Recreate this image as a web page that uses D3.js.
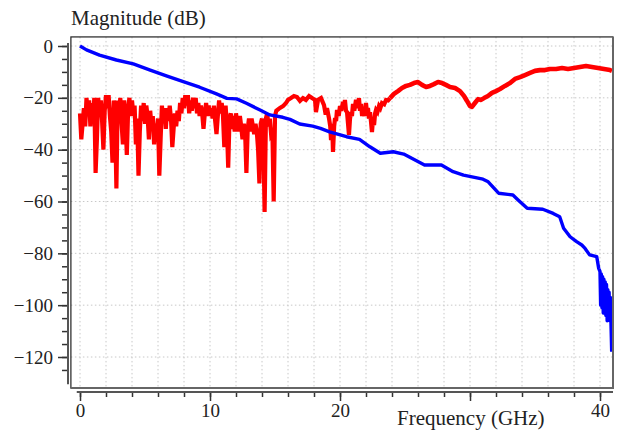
<!DOCTYPE html>
<html>
<head>
<meta charset="utf-8">
<script src="https://cdn.jsdelivr.net/npm/d3@7"></script>
<style>
  body { margin: 0; background: #fff; }
  text { font-family: 'Liberation Serif', 'Times New Roman', serif; fill: #222; }
</style>
</head>
<body>
<div class="container"></div>
<script>
// red trace (noisy one), GHz / dB
const redFreq = [0.0, 0.1, 0.2, 0.3, 0.4, 0.5, 0.6, 0.7, 0.8, 0.9, 1.0, 1.1, 1.2, 1.3, 1.4, 1.5, 1.6, 1.7, 1.8, 1.9,
  2.0, 2.1, 2.2, 2.3, 2.4, 2.5, 2.6, 2.7, 2.8, 2.9, 3.0, 3.1, 3.2, 3.3, 3.4, 3.5, 3.6, 3.7, 3.8, 3.9,
  4.0, 4.1, 4.2, 4.3, 4.4, 4.5, 4.6, 4.7, 4.8, 4.9, 5.0, 5.1, 5.2, 5.3, 5.4, 5.5, 5.6, 5.7, 5.8, 5.9,
  6.0, 6.1, 6.2, 6.3, 6.4, 6.5, 6.6, 6.7, 6.8, 6.9, 7.0, 7.1, 7.2, 7.3, 7.4, 7.5, 7.6, 7.7, 7.8, 7.9,
  8.0, 8.1, 8.2, 8.3, 8.4, 8.5, 8.6, 8.7, 8.8, 8.9, 9.0, 9.1, 9.2, 9.3, 9.4, 9.5, 9.6, 9.7, 9.8, 9.9,
  10.0, 10.1, 10.2, 10.3, 10.4, 10.5, 10.6, 10.7, 10.8, 10.9, 11.0, 11.1, 11.2, 11.3, 11.4, 11.5, 11.6, 11.7, 11.8, 11.9,
  12.0, 12.1, 12.2, 12.3, 12.4, 12.5, 12.6, 12.7, 12.8, 12.9, 13.0, 13.1, 13.2, 13.3, 13.4, 13.5, 13.6, 13.7, 13.8, 13.9,
  14.0, 14.1, 14.2, 14.3, 14.4, 14.5, 14.6, 14.7, 14.8, 14.9, 15.0, 15.1, 15.38, 15.62, 15.85, 16.0, 16.23, 16.46, 16.69, 16.92,
  17.15, 17.38, 17.62, 17.85, 18.08, 18.15, 18.31, 18.54, 18.77, 18.9, 19.0, 19.15, 19.25, 19.31, 19.4, 19.46, 19.55, 19.62, 19.7, 19.77,
  19.9, 20.0, 20.1, 20.23, 20.3, 20.38, 20.46, 20.54, 20.6, 20.69, 20.77, 20.85, 20.92, 21.0, 21.1, 21.23, 21.35, 21.46, 21.54, 21.62,
  21.7, 21.77, 21.88, 22.0, 22.08, 22.15, 22.23, 22.31, 22.38, 22.46, 22.54, 22.62, 22.7, 22.77, 22.88, 23.0, 23.1, 23.23, 23.4, 23.54,
  23.7, 23.85, 24.15, 24.46, 24.77, 25.08, 25.38, 25.69, 26.0, 26.31, 26.62, 26.92, 27.23, 27.54, 27.85, 28.15, 28.46, 28.85, 29.23, 29.54,
  29.77, 30.0, 30.15, 30.38, 30.62, 30.85, 31.08, 31.38, 31.69, 32.0, 32.31, 32.69, 33.08, 33.46, 33.85, 34.23, 34.62, 35.0, 35.38, 35.77,
  36.15, 36.62, 37.08, 37.54, 38.0, 38.46, 38.92, 39.38, 39.85, 40.31, 40.77, 40.92];
const redDb = [-26, -36, -30, -24, -31, -20, -27, -21, -31, -22, -29, -20, -49, -36, -20, -27, -21, -29, -40, -25,
  -19, -24, -19, -27, -33, -45, -21, -28, -55, -21, -28, -20, -30, -38, -21, -27, -42, -25, -20, -27,
  -21, -26, -23, -38, -28, -50, -33, -23, -29, -22, -30, -23, -27, -36, -25, -31, -27, -38, -30, -33,
  -28, -50, -36, -23, -29, -24, -32, -24, -29, -23, -28, -39, -32, -26, -31, -25, -29, -22, -26, -20,
  -24, -19, -23, -19, -26, -21, -25, -20, -24, -20, -26, -22, -27, -23, -26, -32, -26, -22, -27, -23,
  -27, -24, -28, -23, -29, -34, -27, -21, -26, -22, -27, -39, -23, -31, -47, -28, -26, -32, -27, -33,
  -26, -30, -33, -27, -31, -36, -30, -33, -49, -32, -28, -33, -28, -31, -34, -30, -33, -40, -53, -30,
  -28, -34, -64, -28, -26, -31, -28, -34, -33, -60, -27, -25, -23.9, -23.2, -22.0, -20.8, -20.1, -19.3, -19.7, -21.2,
  -20.1, -20.8, -19.3, -20.1, -20.8, -25.5, -20.8, -20.1, -22.8, -26.5, -24.0, -27.8, -31, -36.3, -30, -40.9, -31, -27.8, -29, -24.7,
  -27, -23.2, -25, -21.6, -24, -20.8, -25, -25.5, -29, -34.3, -28, -25.5, -27, -22.4, -25, -20.8, -24, -20.1, -25, -22.4,
  -27, -24.7, -27, -22.0, -26, -23.9, -28, -25.5, -29, -33.2, -28, -30.5, -26, -24.7, -25.5, -23.2, -24, -22.0, -22.5, -20.8,
  -21, -20.1, -18.5, -17.4, -16.2, -15.4, -15.0, -14.3, -13.9, -15.0, -15.8, -15.4, -14.7, -13.9, -14.3, -15.0, -15.8, -16.2, -17.4, -19.3,
  -21.2, -23.2, -23.5, -22.0, -20.5, -20.8, -20.1, -19.3, -18.1, -17.4, -16.6, -15.4, -14.3, -12.7, -12.0, -11.2, -10.4, -9.6, -9.3, -9.3,
  -8.9, -8.9, -8.5, -8.9, -8.5, -8.1, -7.7, -8.1, -8.5, -8.9, -9.3, -9.6];

// blue trace (smooth roll-off)
const blueFreq = [0, 0.5, 1.5, 2.8, 4.1, 5.4, 6.7, 8.0, 9.2, 10.5, 11.3, 12.05, 12.8, 13.85, 14.6, 15.6, 16.15, 16.9, 17.9, 18.5,
  19.2, 20.5, 21.5, 22.3, 23.1, 24.1, 24.9, 26.5, 27.8, 28.7, 29.5, 31.0, 31.4, 32.2, 33.3, 33.7, 34.4, 35.6, 36.4, 36.9,
  37.2, 37.7, 38.2, 38.6, 38.85, 39.2, 39.75, 39.9, 40.0, 40.05, 40.1, 40.15, 40.2, 40.25, 40.3, 40.35, 40.4, 40.45, 40.5, 40.55,
  40.6, 40.65, 40.7, 40.75, 40.8, 40.85, 40.9];
const blueDb = [0, -1.5, -3.5, -5.4, -6.9, -9.3, -11.6, -13.8, -15.9, -18.5, -20.2, -20.4, -22.1, -24.7, -26.6, -27.5, -28.3, -30.1, -30.9, -31.8,
  -33.1, -35.0, -36.0, -38.9, -41.4, -40.8, -41.7, -45.9, -45.9, -48.5, -49.8, -51.4, -52.4, -56.8, -57.5, -59.4, -62.6, -63.0, -64.6, -65.9,
  -70.3, -73.6, -75.5, -76.8, -78.1, -80.6, -81.3, -85.8, -87, -100, -88, -101, -89, -103, -90, -100, -91, -104, -92, -106,
  -94, -102, -95, -106, -97, -108, -118];

// ticks
const xMajorTicks = [0, 10, 20, 30, 40];
const xMinorTicks = d3.range(0, 41, 2);
const xHiddenLabels = [30]; // covered by the axis title in the original
const yMajorTicks = [0, -20, -40, -60, -80, -100, -120];
const yMinorTicks = d3.range(0, -126, -5);

const renderChart = () => {
  const width = 620;
  const height = 432;

  const svg = d3.select('.container').append('svg').attr('width', width).attr('height', height);

  //scales
  const xScale = d3.scaleLinear().domain([0, 40]).range([80, 600]);
  const yScale = d3.scaleLinear().domain([0, -120]).range([46, 357]);

  //frame extents
  const left = xScale(-0.7);
  const right = xScale(41);
  const top = yScale(3.5);
  const bottom = yScale(-132);

  //grid
  const grid = svg.append('g').attr('class', 'grid').attr('stroke', '#c8c8c8').attr('stroke-dasharray', '1.5,2.5');
  grid
    .selectAll('.vgrid')
    .data(xMinorTicks)
    .join('line')
    .attr('x1', d => xScale(d))
    .attr('x2', d => xScale(d))
    .attr('y1', top)
    .attr('y2', bottom);
  grid
    .selectAll('.hgrid')
    .data(yMajorTicks)
    .join('line')
    .attr('x1', left)
    .attr('x2', right)
    .attr('y1', d => yScale(d))
    .attr('y2', d => yScale(d));

  //lines
  const clip = svg.append('clipPath').attr('id', 'plot-clip');
  clip.append('rect').attr('x', left).attr('y', top).attr('width', right - left).attr('height', bottom - top);

  const line = d3
    .line()
    .x(d => xScale(d[0]))
    .y(d => yScale(d[1]));

  const red = d3.zip(redFreq, redDb);
  const blue = d3.zip(blueFreq, blueDb);

  const linesGroup = svg.append('g').attr('class', 'lines').attr('clip-path', 'url(#plot-clip)');
  // noisy low band and the smoother high band, drawn with slightly different widths
  linesGroup
    .append('path')
    .attr('d', line(red.filter(d => d[0] <= 23.85)))
    .attr('fill', 'none')
    .attr('stroke', '#ff0000')
    .attr('stroke-width', 4.2);
  linesGroup
    .append('path')
    .attr('d', line(red.filter(d => d[0] >= 23.85)))
    .attr('fill', 'none')
    .attr('stroke', '#ff0000')
    .attr('stroke-width', 4.6)
    .attr('stroke-linejoin', 'round');
  linesGroup
    .append('path')
    .attr('d', line(blue))
    .attr('fill', 'none')
    .attr('stroke', '#0000ff')
    .attr('stroke-width', 3.4)
    .attr('stroke-linejoin', 'round');

  //frame
  svg
    .append('rect')
    .attr('x', left)
    .attr('y', top)
    .attr('width', right - left)
    .attr('height', bottom - top)
    .attr('fill', 'none')
    .attr('stroke', '#222')
    .attr('stroke-width', 1.2);
  svg
    .append('path')
    .attr('d', `M${right},${top}V${bottom}H${left}`)
    .attr('fill', 'none')
    .attr('stroke', '#666')
    .attr('stroke-width', 2);

  //left axis (detached from frame)
  const axisX = 68;
  const leftAxisGroup = svg.append('g').attr('class', 'left-axis').attr('transform', `translate(${axisX},0)`);
  leftAxisGroup
    .append('g')
    .call(d3.axisLeft(yScale).tickValues(yMinorTicks).tickSize(6).tickFormat(''))
    .call(g => g.select('.domain').remove());
  leftAxisGroup
    .append('g')
    .call(d3.axisLeft(yScale).tickValues(yMajorTicks).tickSize(10).tickPadding(5).tickFormat(d3.format('d')))
    .call(g => g.select('.domain').remove());
  leftAxisGroup
    .append('line')
    .attr('y1', yScale(1.2))
    .attr('y2', yScale(-130.5))
    .attr('stroke', '#555')
    .attr('stroke-width', 2);

  //bottom axis (detached from frame)
  const axisY = 392;
  const bottomAxisGroup = svg.append('g').attr('class', 'bottom-axis').attr('transform', `translate(0,${axisY})`);
  bottomAxisGroup
    .append('g')
    .call(d3.axisBottom(xScale).tickValues(xMinorTicks).tickSize(5).tickFormat(''))
    .call(g => g.select('.domain').remove());
  bottomAxisGroup
    .append('g')
    .call(
      d3
        .axisBottom(xScale)
        .tickValues(xMajorTicks)
        .tickSize(9)
        .tickPadding(3)
        .tickFormat(d => (xHiddenLabels.includes(d) ? '' : d))
    )
    .call(g => g.select('.domain').remove());
  bottomAxisGroup
    .append('line')
    .attr('x1', xScale(-0.25))
    .attr('x2', right)
    .attr('stroke', '#555')
    .attr('stroke-width', 2);

  svg.selectAll('.tick line').attr('stroke', '#333').attr('stroke-width', 1.5);
  svg
    .selectAll('.tick text')
    .attr('font-size', 19)
    .attr('font-family', "'Liberation Serif', 'Times New Roman', serif")
    .attr('fill', '#222');

  //labels
  svg
    .append('text')
    .text('Magnitude (dB)')
    .attr('x', 71)
    .attr('y', 25)
    .attr('font-size', 21);

  svg
    .append('text')
    .text('Frequency (GHz)')
    .attr('x', 397)
    .attr('y', 425)
    .attr('font-size', 21);
};

renderChart();
</script>
</body>
</html>
